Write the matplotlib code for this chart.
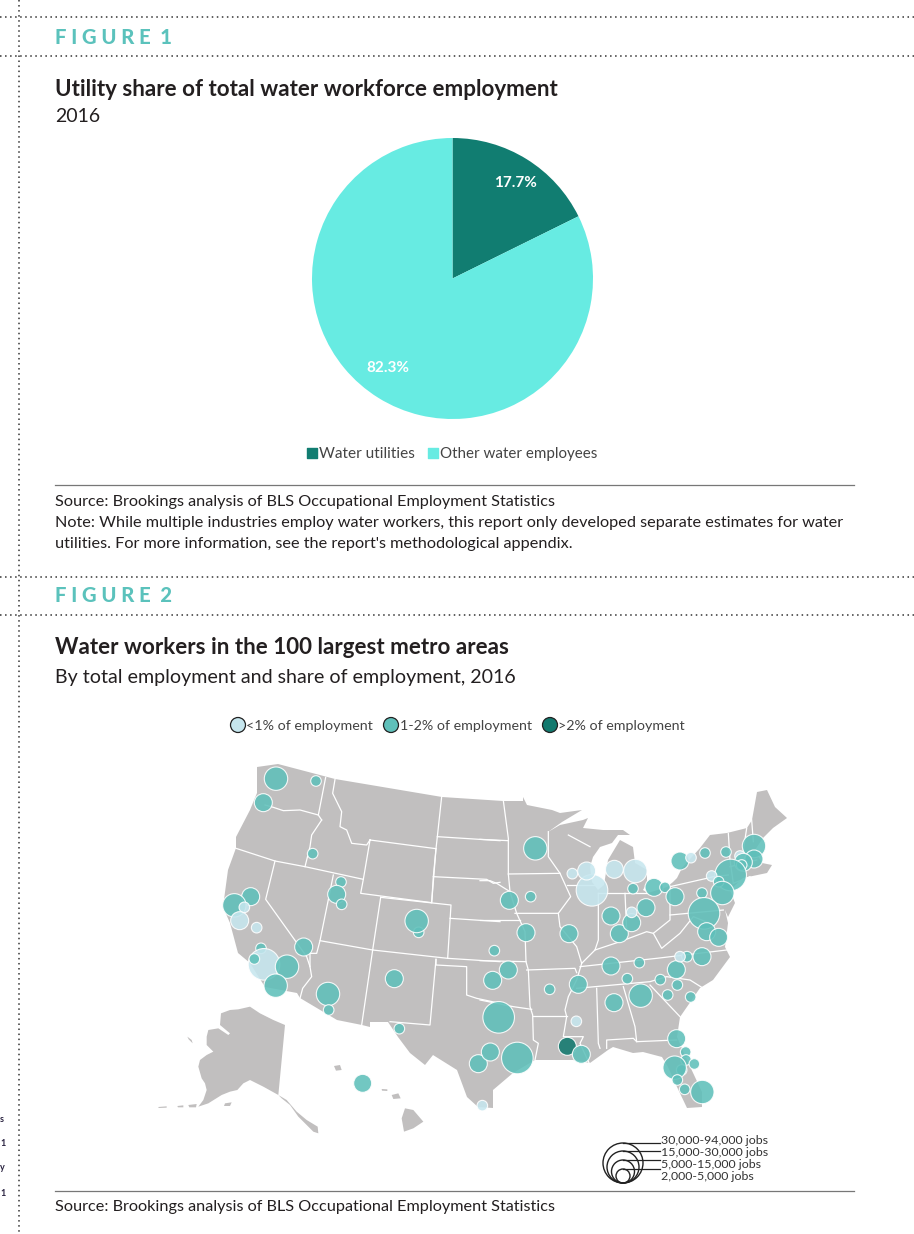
import numpy as np
import matplotlib
matplotlib.use('Agg')
import matplotlib.pyplot as plt
from matplotlib.patches import Circle, Polygon

plt.rcParams['font.family'] = ['Lato', 'DejaVu Sans']

# pie values
pie_labels = ['Water utilities', 'Other water employees']
pie_values = [17.7, 82.3]

# metro bubbles, west and east crops (x, y in crop pixels)
# jobs band: 0 = 2-5k, 1 = 5-15k, 2 = 15-30k, 3 = 30-94k
# share band: 0 = <1%, 1 = 1-2%, 2 = >2%
west_x = [378, 498, 340, 488, 573, 560, 575, 302, 253, 283, 269, 320, 333, 342, 313, 411, 377, 461, 534, 536, 733, 806, 800, 748, 1033, 1028, 985, 1021, 638, 997]
west_y = [86, 93, 158, 311, 396, 433, 463, 440, 466, 472, 512, 533, 595, 643, 627, 650, 707, 591, 732, 780, 686, 547, 513, 836, 602, 691, 941, 906, 1000, 1067]
west_jobs = [2, 0, 1, 0, 0, 1, 0, 1, 2, 0, 1, 0, 0, 3, 0, 2, 2, 1, 2, 0, 1, 0, 2, 0, 0, 1, 1, 1, 1, 0]
west_share = [1, 1, 1, 1, 1, 1, 1, 1, 1, 0, 0, 0, 1, 0, 1, 1, 1, 1, 1, 1, 1, 1, 1, 1, 1, 1, 1, 1, 1, 0]

east_x = [166, 88, 152, 138, 85, 56, 112, 209, 267, 295, 289, 262, 304, 393, 478, 442, 402, 482, 541, 589, 592, 563, 632, 666, 621, 600, 590, 617, 618, 643, 605, 584, 592, 614, 667,
          336, 320, 277, 403, 466, 459, 393, 418, 455, 455, 498, 522, 555, 585, 600, 633, 675, 738, 780, 822, 822, 790, 785, 752, 695, 716, 727, 666, 672, 680, 716]
east_y = [295, 451, 440, 548, 660, 802, 924, 718, 551, 703, 814, 889, 913, 648, 638, 686, 758, 737, 689, 659, 705, 735, 741, 620, 620, 620, 866, 906, 930, 942, 960, 953, 990, 1018, 1026,
          421, 363, 371, 358, 363, 416, 498, 551, 518, 487, 473, 412, 412, 440, 333, 323, 309, 306, 318, 288, 327, 337, 345, 375, 378, 395, 429, 429, 490, 545, 562]
east_jobs = [2, 1, 0, 1, 1, 3, 3, 0, 1, 1, 0, 1, 1, 1, 0, 0, 1, 2, 0, 1, 0, 0, 0, 1, 0, 0, 1, 0, 0, 0, 0, 2, 0, 0, 2,
             3, 1, 0, 1, 2, 0, 1, 1, 1, 0, 1, 1, 0, 1, 1, 0, 0, 0, 0, 2, 1, 1, 0, 3, 0, 0, 2, 0, 3, 1, 1]
east_share = [1, 1, 1, 1, 1, 1, 1, 1, 1, 1, 0, 2, 1, 1, 1, 1, 1, 1, 1, 1, 1, 1, 1, 1, 1, 0, 1, 1, 1, 1, 1, 1, 1, 1, 1,
              0, 0, 0, 0, 0, 1, 1, 1, 1, 0, 1, 1, 1, 1, 1, 0, 1, 1, 0, 1, 1, 1, 1, 1, 0, 1, 1, 1, 1, 1, 1]

share_labels = ['<1% of employment', '1-2% of employment', '>2% of employment']
size_labels = ['30,000-94,000 jobs', '15,000-30,000 jobs', '5,000-15,000 jobs', '2,000-5,000 jobs']

# lower 48 outline, page pixels
us_outline = [(257, 767), (278, 764), (335, 779), (442, 797), (503, 801), (523, 801), (523, 797), (527, 805), (552, 810),
              (560, 813), (582, 810), (562, 822), (548, 832), (560, 825), (583, 820), (588, 818), (583, 828), (603, 830),
              (623, 830), (630, 835), (618, 835), (612, 843), (600, 847), (593, 857), (590, 867), (592, 882), (598, 890),
              (604, 885), (608, 860), (620, 840), (633, 847), (635, 863), (647, 870), (647, 883), (643, 890), (648, 893),
              (667, 887), (673, 882), (677, 878), (682, 868), (700, 848), (710, 835), (727, 833), (747, 828), (752, 820),
              (757, 792), (767, 790), (775, 807), (787, 818), (773, 828), (763, 838), (755, 850), (762, 863), (772, 865),
              (767, 873), (743, 878), (730, 890), (735, 903), (728, 917), (725, 910), (728, 923), (725, 947), (730, 957),
              (713, 980), (700, 988), (680, 1017), (677, 1037), (687, 1060), (702, 1092), (702, 1107), (687, 1108),
              (677, 1087), (668, 1067), (662, 1057), (643, 1052), (633, 1053), (613, 1047), (608, 1050), (590, 1063),
              (573, 1060), (555, 1060), (535, 1060), (513, 1073), (493, 1090), (493, 1108), (478, 1107), (467, 1097),
              (457, 1070), (433, 1055), (425, 1065), (410, 1053), (398, 1037), (388, 1022), (370, 1022), (370, 1027),
              (362, 1025), (337, 1020), (300, 998), (297, 993), (265, 987), (250, 963), (238, 953), (230, 923), (223, 907),
              (228, 870), (236, 848), (236, 837), (250, 810), (257, 793)]

# west state borders, crop pixels
west_borders = [
    [(345, 165), (370, 172), (400, 182), (450, 180), (505, 195), (515, 210)],
    [(527, 82), (505, 195)],
    [(515, 210), (485, 255), (480, 290), (465, 350)],
    [(258, 295), (375, 333), (465, 350), (640, 388)],
    [(555, 88), (548, 130), (575, 185), (570, 230), (590, 240), (605, 280), (650, 285), (660, 270)],
    [(660, 270), (640, 388), (632, 430), (845, 458), (858, 296), (660, 270)],
    [(875, 140), (862, 260), (858, 296)],
    [(862, 260), (1050, 272)],
    [(850, 380), (1010, 388), (1030, 400), (1050, 397)],
    [(858, 296), (850, 380), (845, 458)],
    [(692, 442), (903, 465), (893, 625), (668, 600), (692, 442)],
    [(550, 375), (510, 572), (668, 600)],
    [(375, 333), (347, 448), (470, 620), (480, 650), (485, 680), (458, 715), (450, 745)],
    [(510, 572), (500, 610), (480, 610), (480, 650)],
    [(668, 600), (635, 825)],
    [(858, 628), (840, 825), (720, 815)],
    [(893, 625), (1050, 635)],
    [(858, 628), (858, 645), (950, 650), (950, 735), (980, 745), (1050, 760)],
    [(900, 505), (1050, 515)],
]

# east state borders, crop pixels
east_borders = [
    [(70, 152), (85, 265), (85, 372), (90, 425), (110, 490), (135, 545), (138, 635), (145, 660), (150, 770), (158, 795), (160, 870), (175, 880), (165, 930)],
    [(0, 268), (85, 272)],
    [(0, 392), (30, 392), (50, 400), (90, 425)],
    [(85, 372), (240, 370)],
    [(205, 245), (205, 320), (240, 370), (272, 440), (235, 490), (105, 490)],
    [(235, 490), (240, 530), (290, 590), (305, 640), (290, 690), (265, 740), (255, 780), (260, 800), (250, 860), (310, 860), (300, 880), (330, 945)],
    [(0, 510), (120, 510)],
    [(0, 632), (138, 635)],
    [(140, 660), (285, 655), (290, 668)],
    [(0, 750), (50, 760), (100, 770), (155, 778)],
    [(160, 798), (260, 798)],
    [(350, 715), (355, 880), (360, 895)],
    [(380, 895), (380, 870), (460, 865), (470, 875), (590, 870)],
    [(430, 710), (465, 830), (470, 875)],
    [(290, 715), (510, 695), (560, 680), (630, 690), (670, 715)],
    [(300, 650), (530, 625), (740, 600)],
    [(262, 405), (355, 405)],
    [(355, 430), (355, 570), (345, 600), (305, 640)],
    [(345, 600), (420, 575), (500, 545), (520, 550), (570, 510), (570, 410), (680, 385), (700, 380), (745, 375)],
    [(355, 430), (500, 430)],
    [(435, 430), (440, 540)],
    [(570, 495), (730, 480)],
    [(520, 550), (545, 595), (600, 550), (640, 500), (690, 520)],
    [(265, 255), (330, 290)],
    [(745, 250), (750, 330), (760, 400)],
    [(800, 235), (790, 300)],
    [(815, 210), (820, 275)],
    [(750, 350), (830, 330)],
    [(760, 400), (810, 380)],
    [(510, 705), (600, 800)],
]

# alaska, hawaii, islands, crop pixels of the west crop
alaska = [(213, 790), (240, 780), (265, 778), (300, 770), (330, 790), (370, 810), (405, 825), (395, 930), (385, 1035),
          (410, 1050), (440, 1085), (470, 1110), (503, 1130), (505, 1150), (490, 1145), (470, 1125), (445, 1100),
          (420, 1065), (395, 1045), (385, 1035), (340, 1010), (300, 990), (280, 1000), (262, 1020), (240, 1025),
          (215, 1035), (175, 1060), (145, 1070), (160, 1050), (170, 1020), (165, 1000), (155, 985), (145, 950),
          (150, 930), (170, 915), (190, 905), (170, 885), (170, 860), (175, 840), (205, 835), (235, 855), (240, 850), (210, 825)]
hawaii = [[(552, 948), (570, 945), (575, 960), (558, 962)],
          [(725, 1035), (745, 1030), (752, 1045), (730, 1047)],
          [(695, 1017), (712, 1018), (712, 1023), (696, 1022)],
          [(765, 1075), (790, 1080), (820, 1115), (790, 1135), (762, 1145), (755, 1105)]]
aleutians = [[(225, 1060), (245, 1057), (240, 1068), (222, 1068)], [(115, 1065), (140, 1062), (138, 1072), (118, 1072)],
             [(82, 1068), (100, 1066), (100, 1072), (84, 1072)], [(112, 860), (125, 870), (128, 880), (116, 868)],
             [(25, 1071), (50, 1069), (50, 1073), (26, 1074)]]

# page furniture colours
ink = '#231f20'
teal_label = '#5bc2bc'
land = '#c1bfbf'
share_colors = ['#c6e6ee', '#5fc0ba', '#12796e']
band_radius = [5.3, 9.0, 11.7, 15.8]
dots = (0, (1, 2.3))


def west(pts):
    return [(x / 3 + 150, y / 3 + 750) for x, y in pts]


def east(pts):
    return [(x / 3 + 480, y / 3 + 750) for x, y in pts]


fig = plt.figure(figsize=(9.14, 12.34), dpi=100)
ax = fig.add_axes([0, 0, 1, 1])
ax.set_xlim(0, 914)
ax.set_ylim(1234, 0)
ax.axis('off')

# dotted page guides
for y in [17, 56, 577, 615]:
    ax.plot([0, 914], [y, y], color='#333333', lw=1.1, ls=dots)
ax.plot([19, 19], [0, 1234], color='#333333', lw=1.1, ls=dots)

# text of the neighbouring page, just visible at the edge
for y, s in zip([1119, 1144, 1168, 1193], ['s', '1', 'y', '1']):
    ax.text(0, y, s, fontsize=6.5, fontweight='bold', color='#2a2340', va='center', ha='left')

# figure 1 text
ax.text(55, 37, 'F I G U R E  1', fontsize=14.6, fontweight='black', color=teal_label, va='center')
ax.text(55, 90, 'Utility share of total water workforce employment', fontsize=16.1, fontweight='bold', color=ink, va='center')
ax.text(55, 116, '2016', fontsize=14, color=ink, va='center')

# pie
pie_ax = fig.add_axes([312 / 914, 1 - 419 / 1234, 281 / 914, 281 / 1234])
pie_ax.pie(pie_values, colors=['#117d71', '#67ebe2'], startangle=90, counterclock=False, radius=1.0)
pie_ax.set_xlim(-1, 1)
pie_ax.set_ylim(-1, 1)
ax.set_zorder(2)
ax.text(515, 183, f'{pie_values[0]}%', fontsize=11, fontweight='bold', color='white', ha='center', va='center')
ax.text(388, 368, f'{pie_values[1]}%', fontsize=11, fontweight='bold', color='white', ha='center', va='center')

# pie legend
ax.scatter([312], [453], marker='s', s=50, color='#117d71')
ax.text(319, 454, pie_labels[0], fontsize=11.1, color='#444444', va='center')
ax.scatter([433], [453], marker='s', s=50, color='#67ebe2')
ax.text(440, 454, pie_labels[1], fontsize=10.9, color='#444444', va='center')

ax.plot([55, 854], [485, 485], color='#777777', lw=0.9)
ax.text(55, 502, 'Source: Brookings analysis of BLS Occupational Employment Statistics', fontsize=11.72, color=ink, va='center')
ax.text(55, 523, 'Note: While multiple industries employ water workers, this report only developed separate estimates for water', fontsize=11.7, color=ink, va='center')
ax.text(55, 544, "utilities. For more information, see the report's methodological appendix.", fontsize=11.7, color=ink, va='center')

# figure 2 text
ax.text(55, 595, 'F I G U R E  2', fontsize=14.6, fontweight='black', color=teal_label, va='center')
ax.text(55, 648, 'Water workers in the 100 largest metro areas', fontsize=16.1, fontweight='bold', color=ink, va='center')
ax.text(55, 678, 'By total employment and share of employment, 2016', fontsize=14.15, color=ink, va='center')

# share legend
for lx, tx, lab, col in zip([238, 391, 550], [246, 400, 558], share_labels, share_colors):
    ax.add_patch(Circle((lx, 725), 7.5, facecolor=col, edgecolor='#222222', lw=0.9))
    ax.text(tx, 726, lab, fontsize=10.3, color='#444444', va='center')

# map
ax.add_patch(Polygon(us_outline, closed=True, facecolor=land, edgecolor='none'))
ax.add_patch(Polygon(west(alaska), closed=True, facecolor=land, edgecolor='none'))
for part in hawaii + aleutians:
    ax.add_patch(Polygon(west(part), closed=True, facecolor=land, edgecolor='none'))
for line in west_borders:
    pts = np.array(west(line))
    ax.plot(pts[:, 0], pts[:, 1], color='white', lw=0.9)
for line in east_borders:
    pts = np.array(east(line))
    ax.plot(pts[:, 0], pts[:, 1], color='white', lw=0.9)

# bubbles
xs = list(np.array(west_x) / 3 + 150) + list(np.array(east_x) / 3 + 480)
ys = list(np.array(west_y) / 3 + 750) + list(np.array(east_y) / 3 + 750)
jobs = west_jobs + east_jobs
share = west_share + east_share
for x, y, j, s in zip(xs, ys, jobs, share):
    ax.add_patch(Circle((x, y), band_radius[j], facecolor=share_colors[s], edgecolor='white', lw=0.8, alpha=0.88, zorder=3))

# size legend, circles sit on one baseline
legend_r = [20, 16, 11.5, 7]
for r, ly, ty, lab in zip(legend_r, [1143, 1151, 1160, 1169], [1140, 1152, 1164, 1176], size_labels):
    ax.add_patch(Circle((623, 1183 - r), r, facecolor='none', edgecolor='#222222', lw=1.0, zorder=4))
    ax.plot([623, 660], [ly, ly], color='#222222', lw=0.9, zorder=4)
    ax.text(661, ty, lab, fontsize=8.9, color='#333333', va='center')

ax.plot([55, 854], [1191, 1191], color='#777777', lw=0.9)
ax.text(55, 1207, 'Source: Brookings analysis of BLS Occupational Employment Statistics', fontsize=11.72, color=ink, va='center')

fig.savefig('out.png', dpi=100)
